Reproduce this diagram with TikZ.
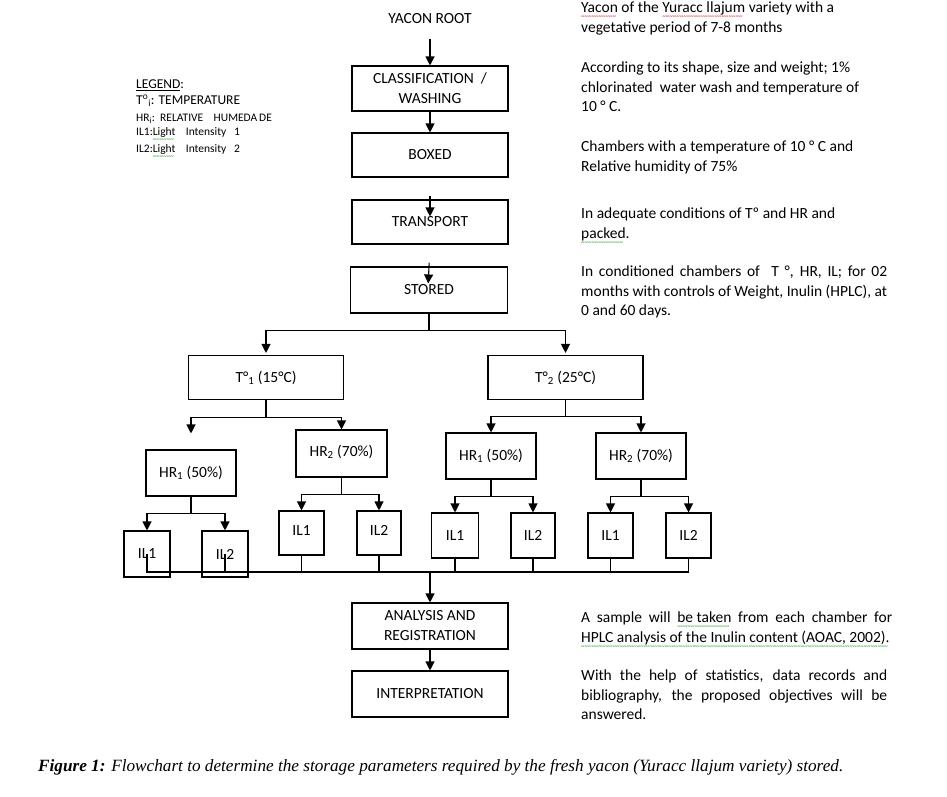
\documentclass[tikz,border=0pt]{standalone}
\usepackage{fontspec}
\usepackage{tikz}
\usetikzlibrary{arrows.meta}
\setmainfont{Carlito}
\newfontfamily\capfont{Liberation Serif}

% wavy marks of the spell checker
\newsavebox\spellbox
\newcommand\spellmark[2]{\sbox\spellbox{#2}\rlap{\raisebox{-6pt}{\hbox to \wd\spellbox{\color{#1}\fontsize{7}{7}\selectfont\leaders\hbox{\textasciitilde}\hfill}}}\usebox\spellbox}
\newcommand\spellred[1]{\spellmark{red!80!black}{#1}}
\newcommand\spellgreen[1]{\spellmark{green!55!black}{#1}}

\tikzset{
  stepbox/.style={draw, line width=1.1pt, align=center, inner sep=1pt, font=\fontsize{15.5}{20}\selectfont},
  arr/.style={line width=1.1pt, -{Triangle[length=9pt,width=9pt]}},
  wire/.style={line width=1.1pt},
  note/.style={anchor=north west, inner sep=0pt, font=\fontsize{15.5}{19.5}\selectfont},
  legend/.style={anchor=west, inner sep=0pt, font=\fontsize{11.5}{13}\selectfont},
}

\begin{document}
\begin{tikzpicture}[x=1pt,y=-1pt]
\useasboundingbox[fill=white] (0,0) rectangle (947,796);

% main line
\node[font=\fontsize{15.5}{17}\selectfont] (root) at (430,19) {YACON ROOT};
\node[stepbox, minimum width=156pt, minimum height=45pt] (cls) at (430,88.5) {CLASSIFICATION~~/\\WASHING};
\node[stepbox, minimum width=156pt, minimum height=44pt] (boxed) at (430,155) {BOXED};
\node[stepbox, minimum width=156pt, minimum height=44pt] (transp) at (430,222) {TRANSPORT};
\node[stepbox, minimum width=157pt, minimum height=46pt] (stored) at (429,290) {STORED};

% temperatures
\node[stepbox, minimum width=155pt, minimum height=44pt] (tone) at (266,377.5) {T°\textsubscript{1} (15°C)};
\node[stepbox, minimum width=155pt, minimum height=44pt] (ttwo) at (565.5,377.5) {T°\textsubscript{2} (25°C)};

% humidity
\node[stepbox, minimum width=90pt, minimum height=46pt] (hrA) at (191,473) {HR\textsubscript{1} (50\%)};
\node[stepbox, minimum width=91pt, minimum height=47pt, text depth=6pt] (hrB) at (341.5,453.5) {HR\textsubscript{2} (70\%)};
\node[stepbox, minimum width=90pt, minimum height=46pt] (hrC) at (491,456) {HR\textsubscript{1} (50\%)};
\node[stepbox, minimum width=90pt, minimum height=46pt] (hrD) at (641,456) {HR\textsubscript{2} (70\%)};

% light
\node[stepbox, minimum width=46pt, minimum height=46pt] (ilA1) at (147,554) {IL1};
\node[stepbox, minimum width=46pt, minimum height=46pt] (ilA2) at (225,554) {IL2};
\node[stepbox, minimum width=45pt, minimum height=44pt, text depth=5pt] (ilB1) at (301.5,533) {IL1};
\node[stepbox, minimum width=44pt, minimum height=44pt, text depth=5pt] (ilB2) at (379,533) {IL2};
\node[stepbox, minimum width=47pt, minimum height=45pt] (ilC1) at (455,535.5) {IL1};
\node[stepbox, minimum width=44pt, minimum height=45pt] (ilC2) at (533,535.5) {IL2};
\node[stepbox, minimum width=45pt, minimum height=45pt] (ilD1) at (610.5,535.5) {IL1};
\node[stepbox, minimum width=45pt, minimum height=45pt] (ilD2) at (688.5,535.5) {IL2};

\node[stepbox, minimum width=156pt, minimum height=46pt] (anl) at (430,626) {ANALYSIS AND\\REGISTRATION};
\node[stepbox, minimum width=156pt, minimum height=46pt] (interp) at (430,694) {INTERPRETATION};

% arrows of the main line
\draw[arr, shorten <=11pt] (root.south) -- (cls.north);
\draw[arr] (cls.south) -- (boxed.north);
\draw[arr, shorten <=18pt, shorten >=-17pt] (boxed.south) -- (transp.north);
\draw[arr, shorten <=18pt, shorten >=-17pt] (transp.south) -- (stored.north);

% branches
\draw[wire] (stored.south) -- ++(0,17) coordinate (sj);
\draw[arr] (sj) -| ([yshift=2pt]tone.north);
\draw[arr] (sj) -| ([yshift=2pt]ttwo.north);

\draw[wire] (tone.south) -- ++(0,17) coordinate (tj);
\draw[arr] (tj) -| ([yshift=16pt]hrA.north);
\draw[arr] (tj) -| (hrB.north);
\draw[wire] (ttwo.south) -- ++(0,16) coordinate (uj);
\draw[arr] (uj) -| (hrC.north);
\draw[arr] (uj) -| (hrD.north);

\foreach \h/\a/\b in {hrA/ilA1/ilA2, hrB/ilB1/ilB2, hrC/ilC1/ilC2, hrD/ilD1/ilD2} {
  \draw[wire] (\h.south) -- ++(0,17) coordinate (\h j);
  \draw[arr] (\h j) -| (\a.north);
  \draw[arr] (\h j) -| (\b.north);
}

% collecting line
\coordinate (join) at (430,572);
\draw[wire] (ilA1.center) |- (join) -| (ilD2.south);
\foreach \n in {ilA2.center, ilB1.south, ilB2.south, ilC1.south, ilC2.south, ilD1.south}
  \draw[wire] (\n) -- (\n |- join);
\draw[arr] (join) -- (anl.north);
\draw[arr] (anl.south) -- (interp.north);

% legend
\node[legend, font=\fontsize{13.5}{16}\selectfont] (lgd) at (136,85) {\underline{LEGEND}:};
\node[legend, font=\fontsize{13.5}{16}\selectfont] (lgT) at (136,101) {T\textsuperscript{o}\textsubscript{i}: TEMPERATURE};
\node[legend] (lgH) at (136,119) {HR\textsubscript{i}:~~RELATIVE~~~~HUMEDA\,DE};
\node[legend] (lgA) at (136,135) {IL1:\spellgreen{Light}~~~~Intensity~~~1};
\node[legend] (lgB) at (136,152) {IL2:\spellgreen{Light}~~~~Intensity~~~2};

% notes on the right
\node[note, align=left] (n1) at (581,2) {\spellred{Yacon} of the \spellred{Yuracc llajum} variety with a\\vegetative period of 7-8 months};
\node[note, align=left] (n2) at (581,62) {According to its shape, size and weight; 1\%\\chlorinated~ water wash and temperature of\\10 ° C.};
\node[note, align=left] (n3) at (581,141) {Chambers with a temperature of 10 ° C and\\Relative humidity of 75\%};
\node[note, align=left] (n4) at (581,208) {In adequate conditions of Tº and HR and\\\spellgreen{packed}.};
\node[note, text width=306pt, align=justify] (n5) at (581,266) {In conditioned chambers of~ T °, HR, IL; for 02\linebreak months with controls of Weight, Inulin (HPLC), at\linebreak 0 and 60 days.};
\node[note, text width=311pt, align=justify] (n6) at (581,612) {A sample will \spellgreen{be taken} from each chamber for\linebreak \spellgreen{HPLC analysis of the Inulin content (AOAC, 2002).}};
\node[note, text width=306pt, align=justify] (n7) at (581,670) {With the help of statistics, data records and\linebreak bibliography, the proposed objectives will be\linebreak answered.};

% caption
\node[anchor=west, inner sep=0pt, font=\capfont\fontsize{17.2}{20}\selectfont] (cap) at (38,767) {\textbf{\textit{Figure 1:}} \textit{Flowchart to determine the storage parameters required by the fresh yacon (Yuracc llajum variety) stored.}};
\end{tikzpicture}
\end{document}
